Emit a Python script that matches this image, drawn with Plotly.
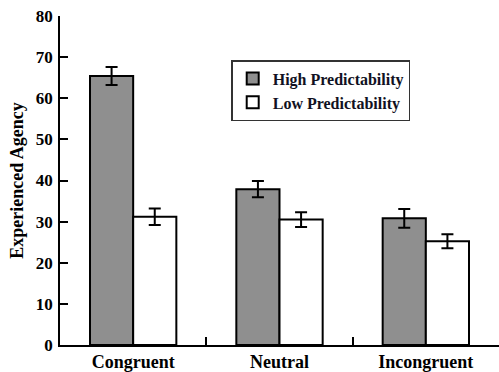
import plotly.graph_objects as go

categories = ["Congruent", "Neutral", "Incongruent"]
high_vals = [65.4, 37.9, 30.8]
high_err = [2.2, 2.0, 2.3]
low_vals = [31.2, 30.5, 25.2]
low_err = [2.0, 1.8, 1.7]
y_ticks = [0, 10, 20, 30, 40, 50, 60, 70, 80]

font_family = "Liberation Serif"

fig = go.Figure()
fig.add_trace(go.Bar(
    name="High Predictability", x=categories, y=high_vals,
    marker=dict(color="#8f8f8f", line=dict(color="black", width=2)),
    error_y=dict(type="data", array=high_err, color="black", thickness=2, width=6),
))
fig.add_trace(go.Bar(
    name="Low Predictability", x=categories, y=low_vals,
    marker=dict(color="white", line=dict(color="black", width=2)),
    error_y=dict(type="data", array=low_err, color="black", thickness=2, width=6),
))

fig.update_layout(
    width=499, height=372,
    margin=dict(l=60, r=0, t=16, b=27, autoexpand=False),
    paper_bgcolor="white", plot_bgcolor="white",
    barmode="group", bargap=0.41, bargroupgap=0,
    font=dict(family=font_family, size=16, color="black", weight="bold"),
    showlegend=True,
    legend=dict(
        x=0.39, y=0.866, xanchor="left", yanchor="top",
        bordercolor="#333", borderwidth=1.5, bgcolor="white",
        font=dict(family=font_family, size=16, color="#111122", weight="bold"),
        tracegroupgap=0, itemwidth=30,
    ),
)
fig.update_xaxes(
    showline=True, linecolor="black", linewidth=1.5,
    ticks="inside", tickson="boundaries", ticklen=8, tickwidth=1.5, tickcolor="black",
    showgrid=False, zeroline=False,
    tickfont=dict(family=font_family, size=18, weight="bold"),
    automargin=False,
)
fig.update_yaxes(
    range=[0, 80], tickvals=y_ticks,
    showline=True, linecolor="black", linewidth=1.5,
    ticks="inside", ticklen=8, tickwidth=1.5, tickcolor="black",
    showgrid=False, zeroline=False,
    tickfont=dict(family=font_family, size=17, weight="bold"),
    ticklabelstandoff=2,
    title=dict(text="Experienced Agency", font=dict(family=font_family, size=18, weight="bold"), standoff=8),
    automargin=False,
)

fig.write_html("out.html", config={"displayModeBar": False},
               post_script="document.body.style.margin='0';")
